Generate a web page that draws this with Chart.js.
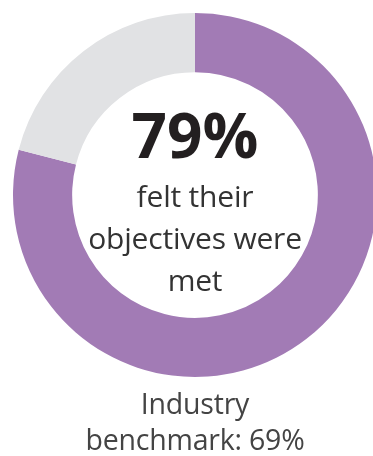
<!DOCTYPE html>
<html>
<head>
<meta charset="utf-8">
<script src="https://cdn.jsdelivr.net/npm/chart.js@4"></script>
<style>
  html, body { margin: 0; padding: 0; background: #ffffff; overflow: hidden; }
  body { width: 373px; height: 456px; position: relative; }
  #wrap { position: absolute; left: 0; top: 0; width: 390px; height: 456px; }
  .txt { position: absolute; text-align: center; font-family: "Open Sans", sans-serif; white-space: nowrap; }
  #big { left: 95px; width: 200px; top: 99px; font-size: 62px; font-weight: 700; color: #231f20; line-height: 70px; }
  #sub { left: 65px; width: 260px; top: 175px; font-size: 30px; font-weight: 400; color: #333333; line-height: 42px; letter-spacing: -0.2px; }
  #bench { left: 45px; width: 300px; top: 385px; font-size: 28.5px; font-weight: 400; color: #444444; line-height: 36px; letter-spacing: -0.2px; }
</style>
</head>
<body>
<div id="wrap"><canvas id="chart"></canvas></div>
<div class="txt" id="big"></div>
<div class="txt" id="sub">felt their<br>objectives were<br>met</div>
<div class="txt" id="bench"></div>
<script>
  const CATEGORIES = ["Objectives met", "Not met"];
  const VALUES = [79, 21];
  const BENCHMARK = 69;
  const COLORS = ["#a27bb5", "#e1e2e4"];

  document.getElementById("big").textContent = VALUES[0] + "%";
  document.getElementById("bench").innerHTML = "Industry<br>benchmark: " + BENCHMARK + "%";

  new Chart(document.getElementById("chart"), {
    type: "doughnut",
    data: {
      labels: CATEGORIES,
      datasets: [
        {
          data: VALUES,
          backgroundColor: COLORS,
          borderWidth: 0,
        },
      ],
    },
    options: {
      responsive: true,
      maintainAspectRatio: false,
      animation: false,
      cutout: "67.5%",
      layout: {
        padding: { left: 13, right: 13, top: 13, bottom: 79 },
      },
      plugins: {
        legend: { display: false },
        tooltip: { enabled: false },
      },
    },
  });
</script>
</body>
</html>
